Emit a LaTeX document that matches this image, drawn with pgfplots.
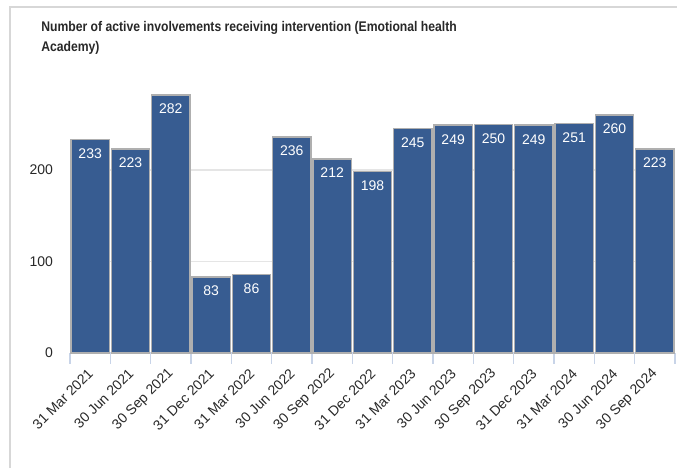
\documentclass[border=0pt]{standalone}
\usepackage{pgfplots}
\pgfplotsset{compat=1.18}
\usepackage{fontspec}
\setmainfont{Liberation Sans}
\newfontfamily\titlefont[FakeStretch=0.87]{Liberation Sans}
\definecolor{barblue}{RGB}{55,92,145}
\definecolor{baredge}{RGB}{175,175,175}
\definecolor{framegray}{RGB}{215,215,215}
\definecolor{txt}{RGB}{40,40,40}
\definecolor{axisblue}{RGB}{200,212,232}
\begin{document}
\begin{tikzpicture}
\path[use as bounding box] (0pt,0pt) rectangle (507.75pt,351pt);
\draw[color=framegray, line width=1.2pt] (7.5pt,0pt) -- (7.5pt,345.75pt) -- (507.75pt,345.75pt);
\node[anchor=base west, font=\titlefont\bfseries\fontsize{10.5}{12}\selectfont, text=txt, inner sep=0] at (30.75pt,327.2pt) {Number of active involvements receiving intervention (Emotional health};
\node[anchor=base west, font=\titlefont\bfseries\fontsize{10.5}{12}\selectfont, text=txt, inner sep=0] at (30.75pt,312pt) {Academy)};
\begin{axis}[
  at={(52.5pt,86.25pt)}, anchor=south west,
  scale only axis, width=453.75pt, height=205.9pt,
  xmin=-0.5, xmax=14.5, ymin=0, ymax=300,
  clip=false,
  /pgf/number format/assume math mode=true,
  axis x line*=bottom, axis y line*=left,
  y axis line style={draw=none},
  x axis line style={draw=axisblue, line width=1pt, -},
  ytick={0,100,200},
  ytick style={draw=none},
  ymajorgrids, grid style={draw=black!10, line width=0.8pt},
  xtick={0,...,14},
  xticklabels={31 Mar 2021,30 Jun 2021,30 Sep 2021,31 Dec 2021,31 Mar 2022,30 Jun 2022,30 Sep 2022,31 Dec 2022,31 Mar 2023,30 Jun 2023,30 Sep 2023,31 Dec 2023,31 Mar 2024,30 Jun 2024,30 Sep 2024},
  major x tick style={draw=none},
  minor xtick={-0.5,0.5,...,14.5},
  minor x tick style={draw=axisblue, line width=1pt},
  tick align=outside, minor tick length=8pt,
  xticklabel style={rotate=45, anchor=east, font=\fontsize{10.5}{12}\selectfont, text=txt},
  yticklabel style={font=\fontsize{10.5}{12}\selectfont, text=txt},
  xtick pos=bottom,
  x tick label style={yshift=-7pt, xshift=-3pt},
  y tick label style={xshift=-5pt},
  ybar, bar width=0.95,
  nodes near coords,
  every node near coord/.append style={anchor=north, yshift=-3pt, text=white, font=\fontsize{10.5}{12}\selectfont},
]
\addplot[fill=barblue, draw=baredge, line width=1pt] coordinates {
(0,233) (1,223) (2,282) (3,83) (4,86) (5,236) (6,212) (7,198) (8,245) (9,249) (10,250) (11,249) (12,251) (13,260) (14,223)};
\end{axis}
\end{tikzpicture}
\end{document}
